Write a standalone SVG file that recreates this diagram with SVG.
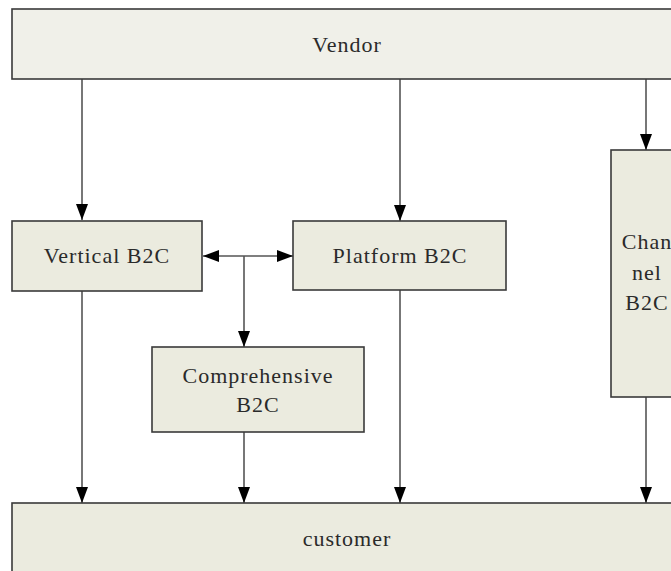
<svg xmlns="http://www.w3.org/2000/svg" width="671" height="571" viewBox="0 0 671 571">
<style>
.box{fill:#ebebdf;stroke:#3a3a3a;stroke-width:1.6}
.light{fill:#f0f0e9}
.lbl{font-family:"Liberation Serif","Times New Roman",serif;font-size:22px;letter-spacing:1px;fill:#2a2a2a;text-anchor:middle}
.edge{stroke:#555;stroke-width:1.6;fill:none}
</style>
<defs>
<marker id="ah" markerUnits="userSpaceOnUse" markerWidth="16" markerHeight="12" refX="16" refY="6" orient="auto-start-reverse">
<path d="M0,0 L16,6 L0,12 Z" fill="#000"/>
</marker>
</defs>
<g id="connectors">
<line class="edge" x1="82" y1="79" x2="82" y2="220" marker-end="url(#ah)"/>
<line class="edge" x1="400" y1="79" x2="400" y2="221" marker-end="url(#ah)"/>
<line class="edge" x1="646" y1="79" x2="646" y2="150" marker-end="url(#ah)"/>
<line class="edge" x1="203" y1="256" x2="293" y2="256" marker-start="url(#ah)" marker-end="url(#ah)"/>
<line class="edge" x1="244" y1="256" x2="244" y2="347" marker-end="url(#ah)"/>
<line class="edge" x1="82" y1="291" x2="82" y2="503" marker-end="url(#ah)"/>
<line class="edge" x1="244" y1="432" x2="244" y2="503" marker-end="url(#ah)"/>
<line class="edge" x1="400" y1="290" x2="400" y2="503" marker-end="url(#ah)"/>
<line class="edge" x1="646" y1="397" x2="646" y2="503" marker-end="url(#ah)"/>
</g>
<g id="vendor">
<rect class="box light" x="12" y="9" width="670" height="70"/>
<text class="lbl" x="347" y="52">Vendor</text>
</g>
<g id="vertical">
<rect class="box" x="12" y="221" width="190" height="70"/>
<text class="lbl" x="107" y="263">Vertical B2C</text>
</g>
<g id="platform">
<rect class="box" x="293" y="221" width="213" height="69"/>
<text class="lbl" x="400" y="263">Platform B2C</text>
</g>
<g id="comprehensive">
<rect class="box" x="152" y="347" width="212" height="85"/>
<text class="lbl" x="258" y="383">Comprehensive</text>
<text class="lbl" x="258" y="412">B2C</text>
</g>
<g id="channel">
<rect class="box" x="611" y="150" width="70" height="247"/>
<text class="lbl" x="647" y="249">Chan</text>
<text class="lbl" x="647" y="280">nel</text>
<text class="lbl" x="647" y="310">B2C</text>
</g>
<g id="customer">
<rect class="box" x="12" y="503" width="670" height="80"/>
<text class="lbl" x="347" y="546">customer</text>
</g>
</svg>
